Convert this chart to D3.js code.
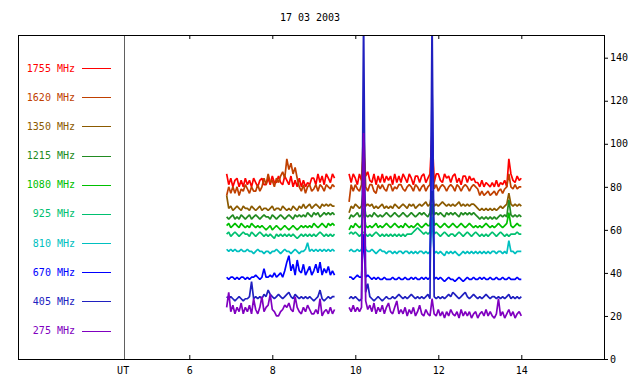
<!DOCTYPE html>
<html><head><meta charset="utf-8">
<script src="https://cdn.jsdelivr.net/npm/d3@7"></script>
<style>
body{margin:0;background:#fff}
text{font-family:"DejaVu Sans Mono","Liberation Mono",monospace;font-size:10px}
</style>
</head><body>
<svg id="c" width="640" height="384"></svg>
<script>
const title = "17 03 2003";
const freqs = ["1755 MHz","1620 MHz","1350 MHz","1215 MHz","1080 MHz","925 MHz","810 MHz","670 MHz","405 MHz","275 MHz"];
const colors = ["#ff0000","#c04000","#8b5a00","#228b22","#00c000","#00c070","#00c0c0","#0000ff","#2020c0","#8000c0"];
const xTicks = [6,8,10,12,14];
const xLabelUT = "UT";
const utHour = 4.43;
const yTicks = [0,20,40,60,80,100,120,140];
// sampling: left block from 6.90 h, right block from 9.85 h, every 0.05 h
const leftStart = 6.90, rightStart = 9.85, stepH = 0.05;

const f1755L = [86,81,84,80,83,84,80,83,80,84, 81,83,80,84,82,80,83,84,81,81, 84,81,85,82,82,85,82,81,85,83, 81,85,80,83,80,84,80,83,80,82, 81,84,84,81,86,82,85,81,86,84, 82,86,84];
const f1755R = [86,82,86,84,81,86,83,97,85,87, 83,82,86,81,85,82,86,82,85,83, 85,81,86,82,85,82,86,84,82,86, 84,81,85,85,82,85,86,82,84,86, 106,82,86,86,83,82,86,84,85,82, 85,86,82,84,81,85,85,82,85,83, 84,82,82,80,83,80,82,81,80,82, 80,83,80,82,81,83,80,93,86,83, 82,85,83,84];

const f1620L = [76,80,77,80,77,80,76,79,78,81, 79,77,80,78,78,81,78,80,84,81, 86,82,83,80,84,82,85,87,84,93, 88,91,86,89,84,80,78,81,77,80, 81,78,79,81,78,81,80,78,81,80, 79,81,80];
const f1620R = [73,81,78,81,79,78,81,109,80,78, 81,81,78,77,81,79,81,79,78,81, 81,78,80,79,81,81,79,78,80,81, 80,78,81,80,78,80,81,78,80,81, 102,79,81,78,80,81,80,78,80,81, 80,78,81,80,78,80,81,80,78,80, 81,80,79,76,78,76,77,78,76,77, 78,76,78,79,77,79,80,86,80,79, 81,79,80,80];

const f1350L = [76,70,71,69,70,71,70,69,71,70, 70,69,71,70,69,70,71,69,70,70, 69,70,71,69,70,70,69,71,70,69, 70,69,71,70,69,71,70,72,70,71, 72,70,71,72,71,70,72,71,72,71, 72,71,71];
const f1350R = [68,71,70,72,71,70,71,80,71,72, 71,72,70,71,70,71,72,70,71,70, 71,70,72,71,70,71,72,71,70,72, 71,72,70,71,72,71,72,73,71,72, 78,71,72,71,72,73,72,71,72,71, 72,71,72,73,71,72,71,72,71,72, 72,71,70,69,70,69,70,69,70,69, 70,69,70,71,70,71,72,77,72,71, 72,71,72,71];

const f1215L = [66,65,66,67,65,66,65,67,66,65, 66,67,65,66,67,66,65,66,67,66, 66,65,67,66,65,66,67,66,65,66, 67,66,65,67,66,67,66,67,66,68, 67,66,68,67,68,66,67,68,67,68, 67,68,67];
const f1215R = [65,67,66,67,68,66,67,75,67,66, 67,66,68,67,66,67,66,67,68,67, 66,67,68,67,66,67,68,67,66,67, 68,67,66,67,68,67,68,67,66,68, 78,67,68,67,68,67,66,68,67,68, 67,68,67,66,68,67,68,67,68,67, 68,67,66,65,66,65,66,65,66,65, 66,65,66,67,66,67,66,74,67,66, 67,66,67,66];

const f1080L = [62,63,61,62,63,62,61,63,62,61, 62,61,63,62,61,62,61,62,61,60, 61,62,60,61,62,61,60,61,62,61, 60,61,62,61,60,61,62,61,62,61, 62,61,63,62,61,62,63,62,61,63, 62,63,62];
const f1080R = [60,62,61,63,62,61,62,70,62,61, 62,61,62,63,61,62,61,62,63,62, 61,62,63,62,61,62,61,63,62,61, 62,61,62,63,62,61,62,63,62,62, 72,62,63,62,61,62,63,62,61,62, 63,62,61,62,63,62,61,62,63,62, 61,62,61,62,61,62,63,62,61,62, 61,62,63,62,61,62,63,68,62,61, 62,63,62,62];

const f925L = [58,59,57,58,59,58,57,58,59,58, 58,57,59,58,57,58,59,58,57,58, 57,58,57,56,58,57,58,57,58,57, 58,57,58,57,56,57,58,57,58,57, 58,57,58,57,58,59,58,57,58,57, 58,57,58];
const f925R = [58,59,58,59,58,57,58,59,58,57, 58,57,58,59,58,57,58,57,58,57, 58,57,58,57,58,57,58,57,58,58, 58,59,60,61,60,59,58,59,58,59, 66,58,59,58,57,58,59,58,57,58, 58,57,58,59,58,57,58,59,58,57, 58,59,58,57,58,57,58,57,58,59, 58,57,58,59,58,57,58,57,58,58, 58,59,58,58];

const f810L = [51,50,51,50,51,50,50,51,50,50, 51,50,50,49,50,51,50,50,49,50, 50,49,50,50,51,50,49,50,51,50, 50,49,50,51,50,49,50,50,51,54, 50,51,50,51,50,51,50,51,50,51, 50,51,50];
const f810R = [50,51,50,50,51,50,51,58,51,50, 50,51,50,49,50,51,50,50,49,50, 50,49,50,49,50,50,49,50,50,49, 50,49,50,49,50,50,49,50,49,50, 66,49,50,49,50,49,48,50,49,50, 49,50,49,48,49,50,49,50,49,50, 49,50,49,50,49,50,49,50,49,50, 50,49,50,50,49,50,49,55,50,50, 49,50,50,50];

const f670L = [38,37,38,38,37,38,37,38,38,37, 38,37,38,38,39,38,37,38,42,38, 38,39,38,40,38,39,40,38,41,45, 48,41,44,39,46,41,40,44,39,41, 43,39,41,44,40,45,39,42,40,43, 39,41,39];
const f670R = [38,38,37,38,39,38,38,58,38,39, 38,37,38,37,38,37,37,38,37,37, 37,38,37,37,38,37,37,38,37,37, 38,37,38,37,37,38,37,38,37,38, 127,37,38,37,38,37,36,37,38,37, 37,36,37,38,37,36,37,38,37,37, 38,37,37,38,37,38,37,37,38,37, 37,38,37,37,38,37,37,38,37,37, 37,38,37,37];

const f405L = [29,28,29,28,27,28,29,28,27,28, 28,29,36,28,29,28,29,28,30,29, 32,30,29,28,29,30,29,28,29,30, 31,29,28,30,29,28,29,28,29,28, 29,28,27,28,29,32,28,27,28,29, 28,29,29];
const f405R = [28,29,28,29,28,27,28,160,31,35, 29,28,27,28,29,28,27,28,29,28, 28,29,28,29,30,29,28,29,28,29, 30,29,28,29,28,29,28,29,30,28, 160,29,28,29,28,29,28,29,30,29, 31,30,29,28,29,30,31,29,28,29, 30,29,28,29,28,29,30,29,28,29, 29,28,29,28,29,28,29,30,28,29, 28,29,28,29];

const f275L = [24,31,22,25,21,24,22,26,21,24, 22,25,21,28,23,21,24,29,22,24, 25,30,23,22,20,20,22,23,25,24, 26,23,22,29,24,22,21,24,22,25, 23,21,21,23,21,28,20,22,23,21, 24,21,23];
const f275R = [24,22,25,22,24,22,24,105,27,23, 25,22,26,21,24,22,25,21,24,26, 22,21,24,27,21,23,21,24,20,23, 21,24,20,22,25,21,20,23,21,20, 28,21,20,23,20,22,19,22,20,23, 21,20,22,19,23,20,22,20,22,19, 21,22,19,21,22,20,23,20,22,20, 19,21,28,20,22,19,21,23,20,22, 19,21,22,20];

const seriesLeft  = [f1755L,f1620L,f1350L,f1215L,f1080L,f925L,f810L,f670L,f405L,f275L];
const seriesRight = [f1755R,f1620R,f1350R,f1215R,f1080R,f925R,f810R,f670R,f405R,f275R];

const svg = d3.select("#c");
const box = {l:18, r:604, t:35, b:359};
const x = d3.scaleLinear().domain([6,14]).range([189.3,521.3]);
const y = d3.scaleLinear().domain([0,140]).range([359,57.7]);

svg.append("text").attr("x",310).attr("y",21).attr("text-anchor","middle").text(title);

svg.append("defs").append("clipPath").attr("id","clip")
  .append("rect").attr("x",box.l).attr("y",box.t).attr("width",box.r-box.l).attr("height",box.b-box.t);

// UT separator
svg.append("line").attr("x1",Math.round(x(utHour))+0.5).attr("x2",Math.round(x(utHour))+0.5)
  .attr("y1",box.t).attr("y2",box.b).attr("stroke","#606060").attr("stroke-width",1);

const line = d3.line().x(d=>x(d.t)).y(d=>y(d.v));
const g = svg.append("g").attr("clip-path","url(#clip)");
seriesLeft.forEach((arr,k)=>{
  const L = arr.map((v,i)=>({t:leftStart+i*stepH, v}));
  const R = seriesRight[k].map((v,i)=>({t:rightStart+i*stepH, v}));
  [L,R].forEach(seg=>{
    g.append("path").attr("d",line(seg)).attr("fill","none")
      .attr("stroke",colors[k]).attr("stroke-width",1.7).attr("stroke-linejoin","bevel");
  });
});

// legend
const ly = d3.scaleLinear().domain([0,9]).range([68,330.5]);
freqs.forEach((f,k)=>{
  svg.append("text").attr("x",75).attr("y",ly(k)).attr("dy","0.35em")
    .attr("text-anchor","end").attr("fill",colors[k]).text(f);
  svg.append("line").attr("x1",82).attr("x2",111).attr("y1",Math.round(ly(k))+0.5).attr("y2",Math.round(ly(k))+0.5)
    .attr("stroke",colors[k]).attr("stroke-width",1);
});

// frame
svg.append("rect").attr("x",box.l+0.5).attr("y",box.t+0.5).attr("width",box.r-box.l).attr("height",box.b-box.t)
  .attr("fill","none").attr("stroke","#000").attr("stroke-width",1);

// axes
const ax = (sel)=>{sel.select(".domain").remove(); sel.selectAll("text").attr("font-family",null).attr("font-size",null).attr("fill","#000"); sel.selectAll("line").attr("stroke","#000");};
svg.append("g").attr("transform",`translate(0,${box.b})`)
  .call(d3.axisBottom(x).tickValues(xTicks).tickSize(-4).tickPadding(8).tickFormat(d3.format("d"))).call(ax);
svg.append("g").attr("transform",`translate(0,${box.t})`)
  .call(d3.axisTop(x).tickValues(xTicks).tickSize(-4).tickFormat("")).call(ax);
svg.append("g").attr("transform",`translate(${box.r},0)`)
  .call(d3.axisRight(y).tickValues(yTicks).tickSize(4).tickPadding(2)).call(ax);
svg.append("text").attr("x",x(utHour)-1).attr("y",374).attr("text-anchor","middle").text(xLabelUT);
</script>
</body></html>
